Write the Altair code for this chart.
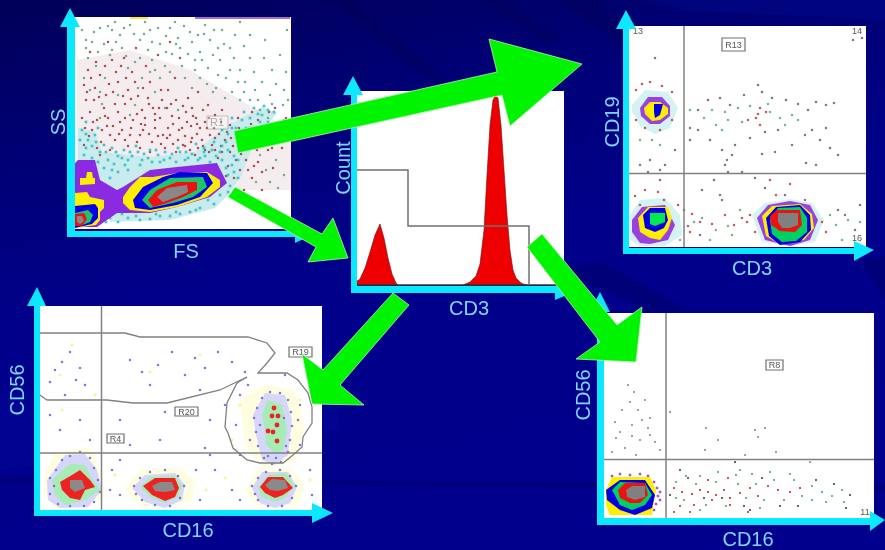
import altair as alt
import pandas as pd

W, H = 885, 550
BG = "#000088"
GREEN = "#00f400"
CYAN = "#0be8ff"
LABEL = "#7cd6ff"

# ---------- panels: x0, x1, y0, y1 ----------
PANELS = [(75, 291, 17, 229), (357, 564, 91, 285), (629, 866, 26, 247), (40, 322, 306, 510), (604, 874, 313, 518)]

# ---------- light tints under the dots ----------
CLOUD_TINT = [(77, 60), (130, 50), (190, 70), (291, 130), (291, 190), (240, 190), (215, 165), (150, 160), (100, 165), (77, 170)]
BAND_TINT = [(78, 128), (95, 132), (102, 152), (150, 157), (195, 152), (225, 127), (262, 107), (277, 113), (255, 140), (242, 175), (228, 195), (215, 208), (170, 220), (110, 222), (100, 180), (85, 165), (78, 165)]
P3_TINTS = [
    [(632, 105), (645, 90), (668, 92), (678, 108), (670, 128), (655, 134), (640, 126), (632, 112)],
    [(630, 215), (640, 200), (665, 198), (680, 215), (682, 235), (665, 246), (640, 246), (630, 240)],
    [(752, 215), (765, 203), (790, 199), (812, 203), (824, 220), (815, 242), (790, 246), (762, 242)],
]

# ---------- stained blobs: outer to inner, (colour, outline) ----------
P1_BLOBS = [
    ("#8a2be2", [(78, 160), (95, 160), (100, 180), (117, 190), (123, 187), (150, 170), (177, 167), (217, 163), (227, 183), (210, 197), (177, 207), (150, 213), (117, 213), (97, 227), (75, 227), (75, 163)]),
    ("#ffee00", [(80, 178), (86, 178), (87, 172), (92, 172), (93, 178), (95, 178), (95, 184), (80, 185)]),
    ("#ffee00", [(75, 193), (87, 192), (90, 197), (104, 200), (104, 208), (100, 212), (100, 220), (96, 225), (75, 228)]),
    ("#0000e0", [(75, 206), (95, 204), (98, 208), (98, 218), (92, 224), (75, 228)]),
    ("#1fc46a", [(75, 213), (88, 210), (93, 215), (90, 222), (80, 226), (75, 226)]),
    ("#ee1111", [(75, 214), (84, 213), (87, 219), (82, 226), (75, 226)]),
    ("#888888", [(77, 216), (82, 216), (84, 221), (80, 224), (77, 222)]),
    ("#ffee00", [(123, 197), (130, 187), (140, 177), (153, 177), (177, 173), (207, 172), (220, 180), (220, 187), (207, 197), (177, 207), (150, 212), (130, 210), (123, 203)]),
    ("#0000e0", [(133, 200), (143, 187), (163, 177), (180, 172), (207, 173), (213, 183), (200, 197), (177, 205), (150, 210), (135, 208)]),
    ("#1fc46a", [(142, 200), (150, 190), (170, 178), (203, 177), (207, 187), (193, 197), (173, 203), (150, 208)]),
    ("#ee1111", [(148, 200), (157, 190), (177, 182), (197, 182), (197, 190), (183, 197), (167, 203), (153, 207)]),
    ("#888888", [(157, 197), (167, 188), (187, 185), (188, 192), (177, 197), (163, 202)]),
]
P3_BLOBS = [
    ("#9a3fe0", [(640, 108), (648, 97), (662, 97), (670, 106), (670, 116), (660, 124), (650, 124), (641, 116)]),
    ("#ffee00", [(644, 108), (650, 102), (660, 102), (668, 108), (668, 114), (660, 120), (652, 121), (645, 114)]),
    ("#0000e0", [(654, 104), (663, 104), (660, 115), (655, 118), (654, 112)]),
    ("#9a3fe0", [(632, 220), (642, 207), (665, 205), (675, 225), (668, 240), (650, 244), (640, 243), (632, 232)]),
    ("#ffee00", [(638, 218), (648, 207), (668, 207), (672, 218), (668, 230), (660, 240), (650, 238), (640, 232)]),
    ("#0000e0", [(643, 215), (650, 208), (665, 208), (668, 220), (664, 228), (655, 232), (645, 228)]),
    ("#00e850", [(650, 213), (665, 213), (665, 222), (655, 226), (650, 224)]),
    ("#9a3fe0", [(757, 218), (768, 205), (790, 201), (810, 205), (818, 220), (810, 240), (790, 246), (765, 240)]),
    ("#ffee00", [(762, 216), (772, 206), (800, 204), (812, 214), (814, 228), (804, 240), (778, 243), (766, 236)]),
    ("#0000e0", [(766, 218), (776, 207), (800, 205), (810, 215), (811, 230), (800, 242), (780, 245), (769, 236)]),
    ("#00d060", [(770, 220), (778, 208), (800, 207), (807, 218), (807, 232), (796, 241), (782, 242), (772, 234)]),
    ("#ee1111", [(770, 216), (777, 210), (800, 210), (802, 225), (795, 232), (780, 231), (771, 225)]),
    ("#808080", [(778, 213), (798, 213), (798, 225), (790, 228), (782, 228), (778, 222)]),
]
P4_OUTER = [
    ("#fffde0", [(44, 475), (55, 452), (90, 448), (100, 470), (105, 495), (90, 508), (55, 508), (44, 495)]),
    ("#d6d6fa", [(47, 480), (65, 455), (85, 454), (97, 470), (102, 490), (88, 507), (60, 508), (48, 500)]),
    ("#a6ecb4", [(52, 480), (70, 464), (85, 465), (90, 475), (100, 490), (85, 500), (65, 505), (55, 495)]),
    ("#fffde0", [(125, 490), (140, 470), (180, 468), (195, 480), (192, 500), (165, 510), (140, 505)]),
    ("#d6d6fa", [(132, 488), (145, 475), (175, 473), (185, 485), (182, 500), (165, 508), (145, 502)]),
    ("#a6ecb4", [(140, 487), (150, 477), (175, 476), (182, 485), (178, 497), (165, 503), (150, 497)]),
    ("#fffde0", [(245, 490), (258, 470), (290, 468), (305, 485), (298, 505), (275, 510), (255, 505)]),
    ("#d6d6fa", [(252, 488), (262, 472), (288, 472), (297, 487), (290, 503), (275, 508), (260, 503)]),
    ("#a6ecb4", [(258, 487), (268, 475), (285, 473), (295, 485), (285, 498), (275, 502), (262, 497)]),
    ("#fffde0", [(240, 400), (265, 385), (295, 390), (305, 425), (295, 460), (265, 470), (245, 445)]),
    ("#d6d6fa", [(253, 415), (265, 393), (285, 395), (292, 420), (288, 455), (275, 465), (262, 460), (256, 435)]),
    ("#a6ecb4", [(262, 415), (268, 400), (282, 405), (287, 430), (283, 450), (275, 453), (266, 445), (265, 430)]),
]
P4_INNER = [
    ("#ee2222", [(60, 482), (72, 475), (80, 470), (90, 480), (95, 487), (85, 490), (80, 500), (70, 498), (62, 490)]),
    ("#8a8a8a", [(70, 480), (82, 480), (85, 488), (75, 492), (70, 488)]),
    ("#ee2222", [(143, 486), (155, 478), (175, 478), (179, 488), (175, 497), (165, 501), (152, 495)]),
    ("#8a8a8a", [(152, 486), (160, 482), (172, 482), (175, 490), (165, 492), (155, 491)]),
    ("#ee2222", [(260, 487), (268, 477), (283, 477), (293, 488), (283, 495), (275, 498), (265, 493)]),
    ("#8a8a8a", [(265, 485), (272, 479), (285, 480), (288, 488), (278, 491), (270, 490)]),
]
P5_BLOBS = [
    ("#ffee00", [(606, 490), (612, 477), (650, 477), (656, 490), (652, 515), (610, 515), (606, 505)]),
    ("#0000e0", [(606, 490), (620, 480), (645, 480), (655, 495), (652, 508), (635, 515), (620, 510), (607, 500)]),
    ("#00d060", [(612, 490), (620, 482), (645, 483), (652, 495), (645, 505), (632, 510), (620, 505)]),
    ("#ee1111", [(618, 490), (625, 483), (645, 483), (648, 495), (640, 503), (630, 503), (620, 498)]),
    ("#808080", [(626, 490), (632, 486), (645, 486), (645, 497), (635, 500), (627, 497)]),
]

# ---------- scattered events ----------
P1_RED = [(88,70),(95,88),(90,112),(100,75),(106,95),(112,60),(118,82),(125,104),(122,130),(132,72),(138,96),(145,118),(150,82),(158,55),(162,100),(168,128),(175,78),(180,58),(186,112),(192,138),(198,92),(205,122),(212,145),(222,110),(230,152),(238,118),(246,160),(255,132),(262,172),(275,108),(282,148),(92,130),(84,145),(97,148),(108,118),(115,140),(128,146),(140,135),(152,142),(165,148),(178,140),(190,150),(202,140),(214,128),(225,140),(110,150),(133,120),(155,128),(172,116),(196,118),(208,105),(86,100),(102,130),(118,112),(142,110),(160,118),(182,128),(218,158),(240,170),(252,178),(248,150),(268,150),(96,62),(124,58),(146,66),(170,42),(108,42),(136,48),(90,52),(116,72),(128,90),(148,98),(168,90),(188,98),(104,108),(82,118),(94,100),(158,136),(176,152),(120,122),(200,128),(230,125),(258,120),(278,125),(234,178),(244,190),(262,190),(273,168),(140,148),(84,85),(110,135),(195,155),(215,115),(130,135),(150,152),(163,135),(187,122),(205,150),(222,152),(97,120),(113,92),(135,82),(153,108),(176,100),(192,108),(210,135),(238,140),(252,112),(270,135),(286,118),(85,128),(100,155),(125,118),(145,125),(170,135),(183,145),(198,148),(228,166),
          (91,78),(99,97),(87,92),(105,66),(109,84),(121,66),(126,78),(131,99),(137,114),(143,88),(149,104),(155,114),(161,90),(167,108),(173,124),(179,118),(185,136),(191,126),(197,134),(203,110),(209,118),(215,138),(221,122),(227,132),(233,146),(239,128),(245,142),(251,124),(257,150),(263,140),(269,112),(107,126),(113,126),(119,134),(125,140),(131,128),(137,142),(143,130),(149,134),(155,120),(161,144),(167,138),(173,144),(179,130),(185,146),(191,142),(197,124),(203,146),(209,152),(215,150),(221,146),(93,122),(89,136),(101,142),(105,116),(115,104),(123,96),(141,124),(159,108),(171,104),(183,106),(193,116),(207,128),(219,134),(231,138),(241,154),(254,166),(236,160),(226,176),(248,170),(258,162),(272,148),(284,134)]
P1_GREEN = [(82,30),(92,42),(100,28),(110,55),(120,35),(130,25),(140,40),(150,30),(160,44),(170,28),(180,48),(190,32),(200,52),(210,40),(220,60),(230,48),(240,70),(250,58),(262,82),(272,70),(284,90),(88,58),(105,78),(122,48),(135,62),(148,50),(165,66),(178,38),(195,70),(207,84),(218,75),(232,92),(245,82),(258,100),(270,95),(283,105),(84,78),(98,52),(112,30),(128,68),(142,78),(155,70),(172,54),(185,78),(198,35),(213,55),(226,78),(240,100),(255,90),(268,118),(280,135),(276,160),(260,155),(284,175),(256,182),(100,92),(118,95),(135,105),(155,92),(178,110),(192,88),(208,68),(225,98),(240,130),(86,40),(115,22),(145,22),(175,22),(205,25),(235,35),(265,40),(250,35),(280,55),(287,30),(240,22),(222,30),(100,118),(160,78),(195,60),(130,115),(213,92),(165,108),
            (86,48),(94,32),(104,44),(108,26),(116,42),(124,28),(134,34),(144,34),(152,42),(158,28),(166,36),(176,44),(184,26),(192,42),(204,34),(214,30),(224,44),(234,58),(244,46),(254,72),(264,58),(276,84),(286,72),(96,66),(112,50),(126,56),(140,58),(152,60),(166,52),(182,66),(200,78),(216,88),(230,70),(244,92),(260,110),(272,104),(90,90),(102,104),(138,88),(150,72),(170,72),(188,54),(202,60),(218,48),(238,82),(250,100),(284,120),(288,100),(266,170),(278,188),(270,182)]
P1_CYAN = [(82,130),(88,140),(95,135),(84,155),(92,158),(100,152),(108,160),(118,156),(128,160),(138,152),(148,158),(158,155),(170,158),(180,152),(192,154),(204,148),(214,142),(222,130),(232,118),(244,112),(254,108),(264,106),(274,112),(268,122),(256,128),(246,128),(236,138),(228,150),(222,160),(232,165),(238,178),(230,186),(220,195),(208,200),(190,212),(170,216),(150,219),(128,218),(110,218),(105,205),(112,170),(125,165),(140,165),(160,162),(185,160),(205,156),(218,170),(86,122),(98,128),(104,145),(112,148),(124,150),(136,146),(150,150),(165,152),(178,148),(196,144),(212,150),(226,142),(240,150),(248,138),(262,115),(238,160),(228,175),(200,208),(180,214),(160,216),(140,220),(118,222),(106,222),
           (80,140),(86,148),(92,146),(98,162),(104,168),(114,164),(122,158),(132,156),(142,160),(152,162),(164,160),(176,162),(188,158),(198,160),(210,162),(216,156),(222,146),(228,134),(236,128),(242,120),(250,118),(258,114),(268,110),(260,122),(252,136),(244,146),(234,156),(226,168),(224,182),(234,172),(228,192),(214,204),(196,210),(176,212),(156,214),(136,216),(122,214),(112,214),(108,210),(106,186),(110,178),(118,172),(128,170),(200,158),(220,152),(242,134),(86,134),(96,142),(106,152),(116,152),(130,152),(144,154),(156,150),(172,154),(186,152),(204,152),(238,144),(232,128),(250,128)]
P1_TOP_BANDS = [(130, 18, 148, 18), (195, 18, 290, 18)]
P3_RED = [(636,90),(642,84),(650,82),(662,86),(672,92),(636,120),(645,128),(660,130),(672,120),(635,196),(645,190),(660,180),(658,192),(640,205),(664,200),(678,205),(692,214),(700,222),(688,226),(684,210),(750,215),(747,222),(755,232),(742,218),(822,222),(826,232),(760,108),(758,114),(756,118),(766,112),(748,120),(760,125),(712,224),(725,215),(776,195),(790,184),(690,232),(734,225),(770,180)]
P3_GREEN = [(704,118),(712,110),(725,112),(738,108),(750,106),(768,104),(780,118),(792,115),(716,125),(728,120),(742,122),(770,112),(694,222),(702,218),(716,230),(728,226),(740,210),(732,235),(836,225),(848,220),(860,222),(830,215),(842,240),(660,145),(652,140),(640,140),(690,110),(722,130),(785,125),(798,120),(680,240),(710,240)]
P3_GRAY = [(690,128),(698,110),(708,100),(720,98),(730,105),(744,95),(758,85),(762,92),(772,98),(786,100),(798,104),(808,110),(816,102),(826,105),(834,103),(812,130),(820,140),(830,148),(690,140),(698,130),(710,140),(722,150),(735,145),(750,138),(765,132),(778,130),(792,145),(805,135),(826,128),(838,155),(762,154),(775,152),(727,160),(732,155),(725,165),(806,163),(816,165),(728,172),(742,172),(714,180),(702,190),(720,195),(755,178),(765,188),(785,195),(700,235),(722,200),(805,200),(845,215),(855,230),(838,210),(860,205),(655,58),(853,40),(862,38),(650,160),(665,165),(640,165),(660,170),(648,172),(675,150)]
P4_BLUE = [(55,370),(62,362),(70,352),(80,368),(50,382),(76,380),(65,395),(85,385),(130,360),(142,372),(158,365),(172,352),(185,375),(195,358),(205,368),(218,352),(232,362),(245,372),(150,385),(200,390),(165,412),(210,420),(225,405),(120,420),(130,445),(160,440),(205,448),(50,415),(60,430),(80,420),(90,440),(112,470),(120,495),(200,500),(215,470),(232,490),(240,500),(110,490),(285,375),(240,395),(248,385),(300,405),(236,425),(250,440),(240,455),(300,445),(298,420),(310,470),(312,495),(120,460),(210,455),(196,470),
           (50,478),(56,470),(62,460),(70,456),(80,452),(90,458),(94,468),(98,480),(100,492),(94,502),(84,506),(70,506),(58,504),(50,494),(54,486),(134,486),(140,478),(150,472),(165,470),(178,476),(184,486),(180,498),(170,506),(155,505),(142,500),(136,494),(252,486),(258,478),(266,472),(280,470),(290,476),(296,486),(292,498),(282,506),(268,506),(258,500),(255,494),(254,418),(257,408),(262,398),(270,392),(280,393),(288,400),(291,412),(292,426),(290,440),(288,452),(281,462),(272,464),(264,458),(258,446),(256,432),(260,425),(284,418),(286,446),(276,458),(268,456)]
P4_YELLOW = [(60,375),(72,345),(62,410),(95,395),(150,372),(200,355),(240,405),(232,440),(300,400),(115,475),(206,490),(225,478),(310,480)]
P4_RED_SPOTS = [(274, 408), (272, 416), (278, 416), (277, 425), (268, 431), (273, 432), (277, 441)]
P5_GRAY = [(634,392),(630,402),(638,410),(622,410),(615,422),(632,425),(642,420),(650,418),(616,438),(625,448),(640,440),(655,442),(660,450),(612,452),(636,455),(648,428),(670,412),(706,428),(718,440),(705,450),(755,430),(758,437),(765,428),(745,455),(776,452),(620,432),(632,436),(650,435),(645,400),(628,385),(810,462)]
P5_RED = [(674,488),(682,492),(692,494),(700,490),(708,492),(716,495),(724,490),(730,498),(740,493),(750,488),(758,496),(768,486),(778,490),(790,492),(800,488),(712,500),(694,505),(680,506),(730,505),(748,512),(674,512),(690,512),(708,480),(728,478)]
P5_GREEN = [(676,498),(684,500),(696,484),(706,505),(716,482),(726,506),(738,484),(746,498),(756,484),(764,500),(774,480),(784,500),(794,480),(802,496),(812,500),(676,482),(686,476),(700,476),(718,472),(736,475),(752,474),(770,472),(790,474),(812,486),(822,492),(832,496),(842,490),(844,502),(826,502),(700,510),(740,470),(760,508)]
P5_BLACK = [(670,495),(688,478),(704,498),(722,498),(744,506),(762,478),(780,506),(798,506),(816,480),(834,484),(850,495),(846,508),(680,470),(735,462),(750,510)]
P5_PURPLE = [(612,476),(620,474),(630,475),(640,474),(648,476),(654,482),(657,488),(658,496),(656,504),(654,510),(660,492),(660,500)]

# ---------- histogram ----------
PEAK1_X = [357, 360, 365, 370, 375, 380, 384, 388, 392, 396, 398]
PEAK1_Y = [281, 279, 268, 252, 235, 224, 238, 258, 274, 283, 285]
PEAK2_X = [463, 470, 476, 480, 484, 487, 490, 493, 495, 498, 501, 504, 507, 510, 513, 516, 521, 526]
PEAK2_Y = [285, 282, 276, 264, 230, 175, 125, 100, 96, 98, 125, 170, 215, 250, 270, 278, 283, 285]
STEP_X = [357, 408, 408, 529, 529]
STEP_Y = [170, 170, 226, 226, 285]

# ---------- gates ----------
GATE_A = [(40, 333), (125, 333), (140, 337), (248, 337), (267, 343), (275, 353), (267, 363), (258, 373), (287, 373), (298, 380), (308, 393), (312, 407), (312, 423), (303, 437), (302, 447), (293, 455), (283, 463), (260, 463), (247, 460), (233, 448), (228, 433), (225, 427), (227, 403), (237, 383), (247, 377)]
GATE_B = [(247, 377), (220, 390), (167, 403), (133, 403), (107, 400), (47, 400), (40, 395)]

# ---------- quadrant lines: x0, y0, x1, y1 ----------
QUADS = [(684, 26, 684, 247), (629, 173.5, 866, 173.5), (101.5, 306, 101.5, 510), (40, 453, 322, 453), (666, 313, 666, 518), (604, 459.5, 874, 459.5)]
BASELINE = [(357, 285, 556, 285)]

# ---------- axes ----------
CYAN_SHAPES = [
    [(67, 237), (67, 25), (75, 25), (75, 231), (295, 231), (295, 237)],
    [(60, 27), (70, 8), (80, 27)],
    [(295, 231), (312, 235), (295, 243)],
    [(351, 293), (351, 92), (357, 92), (357, 286), (562, 286), (562, 293)],
    [(343, 95), (353, 76), (363, 95)],
    [(555, 286), (576, 291), (555, 300)],
    [(623, 254), (623, 27), (629, 27), (629, 248), (856, 248), (856, 254)],
    [(616, 29), (626, 10), (636, 29)],
    [(854, 241), (874, 250), (854, 261)],
    [(34, 516), (34, 304), (40, 304), (40, 510), (314, 510), (314, 516)],
    [(27, 306), (37, 287), (46, 306)],
    [(312, 503), (333, 513), (312, 523)],
    [(597, 525), (597, 310), (604, 310), (604, 518), (872, 518), (872, 525)],
    [(590, 312), (600, 292), (610, 312)],
    [(870, 511), (885, 520), (870, 531)],
]

# ---------- green arrows ----------
ARROWS = [
    [(234, 131), (497, 72), (489, 39), (582, 64), (510, 126), (502, 95), (238, 153)],
    [(235, 187), (322, 234), (333, 218), (348, 258), (308, 262), (316, 247), (228, 197)],
    [(393, 293), (409, 305), (340, 385), (364, 405), (312, 404), (302, 354), (323, 370)],
    [(542, 234), (617, 325), (642, 307), (636, 362), (576, 359), (600, 342), (527, 247)],
]

# ---------- background streaks ----------
DARK_RAYS = [
    [(330, 0), (352, 0), (445, 78), (425, 78)],
    [(480, 0), (505, 0), (565, 40), (545, 42)],
    [(560, 0), (600, 0), (640, 40), (620, 45)],
    [(0, 478), (885, 485), (885, 490), (0, 482)],
    [(560, 270), (600, 262), (690, 310), (650, 312)],
    [(860, 262), (885, 255), (885, 300)],
]
LIGHT_RAYS = [
    [(0, 395), (330, 345), (340, 430), (0, 470)],
    [(640, 0), (885, 0), (885, 20), (680, 10)],
]

# ---------- text ----------
LABELS = ["FS", "CD3", "CD3", "CD16", "CD16"]
LABEL_X = [186, 469, 752, 188, 748]
LABEL_Y = [252, 309, 269, 531, 540]
V_LABELS = ["SS", "Count", "CD19", "CD56", "CD56"]
V_LABEL_X = [59, 344, 613, 18, 584]
V_LABEL_Y = [122, 168, 122, 390, 395]
TAG_TEXT = ["R13", "R19", "R20", "R4", "R8"]
TAG_BOX = [(722, 745, 38, 51), (289, 312, 347, 357), (175, 198, 407, 416), (107, 124, 434, 443), (766, 783, 360, 370)]
SMALL_TEXT = ["13", "14", "16", "11"]
SMALL_X = [638, 857, 857, 865]
SMALL_Y = [31, 31, 238, 512]
FAINT_TAG = [(207, 228, 116, 129)]

sx = alt.Scale(domain=[0, W], range=[0, W], nice=False, zero=False)
sy = alt.Scale(domain=[0, H], range=[0, H], nice=False, zero=False)
X = lambda f="x": alt.X(f"{f}:Q", scale=sx, axis=None)
Y = lambda f="y": alt.Y(f"{f}:Q", scale=sy, axis=None)


def features(items):
    out = []
    for colour, opacity, pts in items:
        ring = [list(p) for p in pts] + [list(pts[0])]
        out.append({"type": "Feature", "properties": {"fill": colour, "op": opacity},
                    "geometry": {"type": "Polygon", "coordinates": [ring]}})
    return out


def shapes(items, **mark):
    mark.setdefault("strokeWidth", 0)
    return (alt.Chart(alt.InlineData(values=features(items)))
            .mark_geoshape(**mark)
            .encode(color=alt.Color("properties.fill:N", scale=None, legend=None),
                    opacity=alt.Opacity("properties.op:Q", scale=None, legend=None))
            .project(type="identity", scale=1, translate=[0, 0]))


def dots(points, colour, size=5, opacity=0.9):
    df = pd.DataFrame(points, columns=["x", "y"])
    return alt.Chart(df).mark_point(filled=True, shape="square", size=size, color=colour,
                                    opacity=opacity, strokeWidth=0).encode(x=X(), y=Y())


def boxes(rows, fill, stroke=None, width=0, opacity=1):
    df = pd.DataFrame(rows, columns=["x", "x2", "y", "y2"])
    kw = {"stroke": stroke, "strokeWidth": width} if stroke else {}
    return alt.Chart(df).mark_rect(fill=fill, opacity=opacity, **kw).encode(x=X(), x2="x2:Q", y=Y(), y2="y2:Q")


def rules(rows, colour, width):
    df = pd.DataFrame(rows, columns=["x", "y", "x2", "y2"])
    return alt.Chart(df).mark_rule(color=colour, strokeWidth=width).encode(x=X(), y=Y(), x2="x2:Q", y2="y2:Q")


def polyline(xs, ys, colour, width):
    df = pd.DataFrame({"x": xs, "y": ys, "i": range(len(xs))})
    return alt.Chart(df).mark_line(color=colour, strokeWidth=width).encode(x=X(), y=Y(), order="i:Q")


def peak(xs, ys):
    df = pd.DataFrame({"x": xs, "y": ys, "b": [285] * len(xs)})
    return alt.Chart(df).mark_area(color="#ee0000", stroke="#661111", strokeWidth=0.6).encode(x=X(), y=Y(), y2="b:Q")


def texts(t, xs, ys, size, colour, angle=0, opacity=1):
    df = pd.DataFrame({"t": t, "x": xs, "y": ys})
    return alt.Chart(df).mark_text(fontSize=size, color=colour, angle=angle, font="Liberation Sans", align="center",
                                   baseline="middle", opacity=opacity).encode(x=X(), y=Y(), text="t:N")


background = alt.Chart(pd.DataFrame({"x": [0], "x2": [W], "y": [0], "y2": [H]})).mark_rect(
    color=alt.Gradient(gradient="linear", x1=0, y1=0, x2=0.3, y2=1, stops=[
        alt.GradientStop(color="#000058", offset=0),
        alt.GradientStop(color="#000074", offset=0.25),
        alt.GradientStop(color="#00008a", offset=0.55),
        alt.GradientStop(color="#00008c", offset=1),
    ])).encode(x=X(), x2="x2:Q", y=Y(), y2="y2:Q")

tint_items = ([("#f4ecee", 1, CLOUD_TINT), ("#c8ecee", 1, BAND_TINT)]
              + [("#d4f2f4", 1, p) for p in P3_TINTS])

red_spots = pd.DataFrame(P4_RED_SPOTS, columns=["x", "y"])

layers = [
    background,
    shapes([("#000050", 0.3, r) for r in DARK_RAYS]),
    shapes([("#0010a0", 0.25, r) for r in LIGHT_RAYS]),
    boxes([(p[0], p[1], p[2], p[3]) for p in PANELS], "#ffffff"),
    shapes(tint_items),
    dots(P1_GREEN, "#5cab80"), dots(P1_RED, "#b03a3a"), dots(P1_CYAN, "#30c0c8", 7),
    rules(P1_TOP_BANDS[:1], "#ffe000", 1.5), rules(P1_TOP_BANDS[1:], "#8040c0", 1.5),
    dots(P3_RED, "#c04848"), dots(P3_GREEN, "#60b080"), dots(P3_GRAY, "#706880"),
    shapes([(c, 1, p) for c, p in P4_OUTER]),
    dots(P4_YELLOW, "#f5ef90", 7), dots(P4_BLUE, "#6a6ad8"),
    dots(P5_GRAY, "#9a8fa8", 4), dots(P5_RED, "#c04848", 4), dots(P5_GREEN, "#60b080", 4), dots(P5_BLACK, "#555555", 4),
    dots(P5_PURPLE, "#9040d8", 6),
    shapes([(c, 1, p) for c, p in P1_BLOBS + P3_BLOBS + P4_INNER + P5_BLOBS]),
    alt.Chart(red_spots).mark_circle(color="#ee2222", size=24, opacity=1).encode(x=X(), y=Y()),
    peak(PEAK1_X, PEAK1_Y), peak(PEAK2_X, PEAK2_Y),
    rules(BASELINE, "#333333", 1.5),
    polyline(STEP_X, STEP_Y, "#707070", 1.5),
    rules(QUADS, "#808080", 1.5),
    polyline([p[0] for p in GATE_A], [p[1] for p in GATE_A], "#808080", 1.3),
    polyline([p[0] for p in GATE_B], [p[1] for p in GATE_B], "#808080", 1.3),
    boxes(FAINT_TAG, "#ffffff", "#666666", 1, 0.35),
    texts(["R1"], [217], [123], 11, "#555555", opacity=0.45),
    boxes(TAG_BOX, "#ffffff", "#707070", 1.2),
    texts(TAG_TEXT, [(b[0] + b[1]) / 2 for b in TAG_BOX], [(b[2] + b[3]) / 2 for b in TAG_BOX], 9, "#555555"),
    texts(SMALL_TEXT, SMALL_X, SMALL_Y, 9, "#555555"),
    shapes([(CYAN, 1, p) for p in CYAN_SHAPES]),
    shapes([(GREEN, 1, p) for p in ARROWS], stroke="#b8f0b8", strokeWidth=0.8),
    texts(LABELS, LABEL_X, LABEL_Y, 20, LABEL),
    texts(V_LABELS, V_LABEL_X, V_LABEL_Y, 20, LABEL, angle=270),
]

chart = alt.layer(*layers).properties(
    width=W, height=H, padding=0, background=BG,
    autosize=alt.AutoSizeParams(type="none"),
).configure_view(stroke=None)

chart.save("out.html", embed_options={
    "renderer": "svg", "actions": False,
    "defaultStyle": "html,body{margin:0;padding:0;overflow:hidden;background:#000088}svg{filter:blur(.45px)}",
})
